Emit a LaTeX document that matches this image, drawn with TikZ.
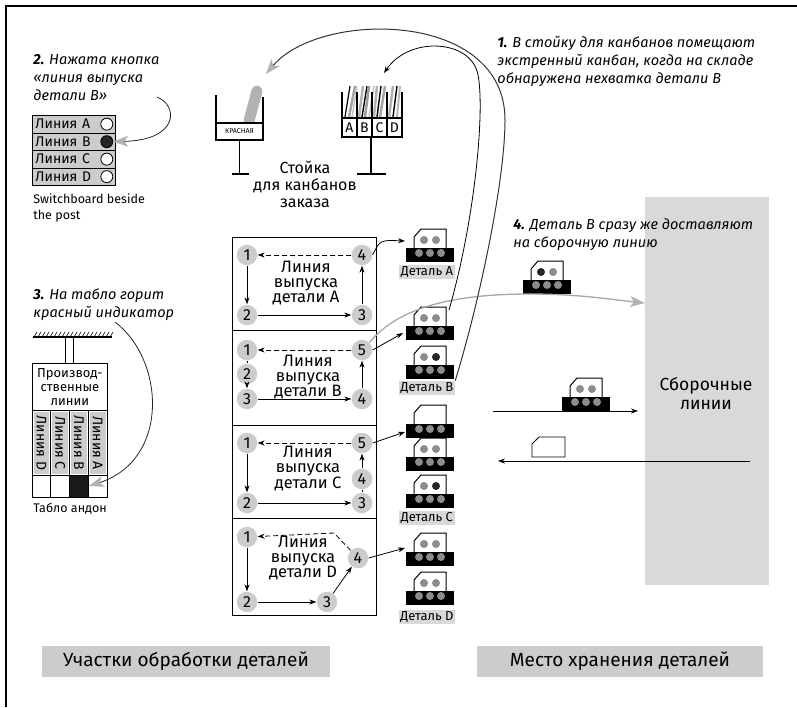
\documentclass[tikz,border=0pt]{standalone}
\usepackage{fontspec}
\setmainfont{Fira Sans}
\usetikzlibrary{arrows.meta}

\newcommand{\fsz}[2]{\fontsize{#1}{#2}\selectfont}
\definecolor{boxgray}{gray}{0.80}
\definecolor{dotgray}{gray}{0.55}

% a part container with its kanban card: x, top, left dot, right dot
\newcommand{\partstack}[4]{%
  \begin{scope}[shift={(#1,#2)}]
    \draw[fill=white,line width=1pt] (-16,24) -- (-16,8) -- (-9,0) -- (16,0) -- (16,24);
    \fill[#3] (-6,11) circle (4);
    \fill[#4] (6,11) circle (4);
    \fill[black] (-24,19) rectangle (24,33);
    \foreach \u in {-11,0,11} \fill[dotgray] (\u,24) circle (4);
    \draw[black,line width=1.2pt] (-16,29) -- (16,29);
  \end{scope}}

\tikzset{
  stn/.style={circle,fill=gray!40,inner sep=0pt,minimum size=20.5pt,font=\fsz{16}{16}},
  linetxt/.style={align=center,font=\fsz{16.5}{15}},
  steptxt/.style={anchor=north west,inner sep=0pt,align=left,font=\fsz{14.5}{18}\itshape},
  dlabel/.style={fill=gray!30,inner sep=1.5pt,font=\fsz{13}{13}},
  swrow/.style={draw,fill=boxgray,anchor=north west,minimum height=17.5pt,
    text width=77pt,inner xsep=3pt,inner ysep=0pt,align=left,font=\fsz{14}{14}},
  lampnode/.style={circle,draw,fill=white,inner sep=0pt,minimum size=12pt},
  slotbox/.style={draw,line width=1.5pt,fill=white,minimum width=15pt,minimum height=19pt,
    inner sep=0pt,font=\fsz{14}{14}},
  bigtip/.style={-{Stealth[length=15pt,width=11pt,inset=4pt,color=gray!60]}},
  graycurve/.style={gray!70,line width=1.3pt,bigtip},
  back/.style={->,dash pattern=on 5pt off 3pt},
}

\begin{document}
\begin{tikzpicture}[x=1pt,y=-1pt,line width=0.8pt,>={Stealth[length=7pt,width=5pt]}]
\useasboundingbox (0,0) rectangle (797,707);

% frame
\draw[line width=2pt] (6,707) -- (6,6) -- (797,6);

% captions of the steps
\node[steptxt] (cap1) at (497,36) {\textbf{1.} В стойку для канбанов помещают\\экстренный канбан, когда на складе\\обнаружена нехватка детали B};
\node[steptxt] (cap2) at (33,54) {\textbf{2.} Нажата кнопка\\«линия выпуска\\детали B»};
\node[steptxt] (cap3) at (33,288) {\textbf{3.} На табло горит\\красный индикатор};

% assembly lines
\fill[gray!30] (645,197) rectangle (769,585);
\node[align=center,font=\fsz{17.5}{19}] (asm) at (706,394) {Сборочные\\линии};
\node[steptxt] (cap4) at (513,218) {\textbf{4.} Деталь B сразу же доставляют\\на сборочную линию};

% switchboard
\foreach \t [count=\i from 0] in {A,B,C,D}
  \node[swrow] (sw\t) at (32,115+17.5*\i) {Линия \t};
\foreach \t in {A,C,D}
  \node[lampnode,xshift=-9pt] (lamp\t) at (sw\t.east) {};
\node[lampnode,xshift=-9pt,fill=gray!30!black] (lampB) at (swB.east) {};
\node[anchor=north west,inner sep=0pt,align=left,font=\fsz{12.5}{16}] (swcap) at (33,193) {Switchboard beside\\the post};
\coordinate (c2from) at (157,97);
\draw[gray!30!black,bigtip] (c2from) .. controls (178,105) and (180,140) .. (lampB.east);

% kanban post for the red card
\draw[line width=11pt,gray!60,line cap=round] (249,121) -- (257,91);
\draw[line width=1.8pt] (216,95) -- (216,123) -- (263,123) -- (263,97);
\node[draw,line width=1.8pt,fill=white,minimum width=47pt,minimum height=17pt,inner sep=0pt,font=\fsz{7}{7}] (red) at (239.5,131.5) {КРАСНАЯ};
\draw[line width=1.8pt] (red.south) -- ++(0,33) coordinate (redfoot);
\draw[line width=1.8pt] ([xshift=-8pt]redfoot) -- ([xshift=9pt]redfoot);

% kanban post for the order cards
\foreach \xb/\xt/\w/\c in {345/350/1.2/black,349/355/2.5/gray!70,352/357/1.4/gray!45,
    359/363/2.5/gray!60,362/367/1.4/black,365/369/2.5/gray!75,369/374/1.4/gray!50,
    374/377/2.5/gray!60,377/381/1.4/black,380/385/2.5/gray!70,389/393/2.5/gray!60,
    393/397/1.4/black,397/400/2/gray!55}
  \draw[line width=\w pt,\c] (\xb,117) -- (\xt,86);
\foreach \x in {342,357,372,387,402}
  \draw[line width=1.5pt] (\x,92) -- (\x,118);
\foreach \t [count=\i from 0] in {A,B,C,D}
  \node[slotbox] (slot\t) at (349.5+15*\i,127.5) {\t};
\draw[line width=1.8pt] (slotC.south west) -- ++(0,36) coordinate (slotfoot);
\draw[line width=1.8pt] ([xshift=-14pt]slotfoot) -- ([xshift=15pt]slotfoot);
\node[linetxt,font=\fsz{16}{17}] (postcap) at (305,184) {Стойка\\для канбанов\\заказа};

% andon board
\draw[line width=1.2pt] (33,337) -- (112,337);
\foreach \x in {34,38,...,110}
  \draw[line width=0.6pt] (\x,337) -- ++(3,-5);
\draw (65,337) -- (65,363);
\draw (73,337) -- (73,363);
\node[draw,fill=white,minimum width=75pt,minimum height=47pt,anchor=north west,inner sep=0pt,
  align=center,font=\fsz{13}{14}] (andon) at (32,363) {Производ-\\ственные\\линии};
\draw (32,410) rectangle (107,497);
\foreach \t/\x in {D/32,C/50.75,B/69.5,A/88.25} {
  \fill[boxgray] (\x+1.5,412) rectangle (\x+17.25,474);
  \node[rotate=-90,font=\fsz{14}{14}] (and\t) at (\x+9.4,443) {Линия \t};
  \draw (\x,410) -- (\x,497);
}
\draw (32,475) -- (107,475);
\fill[gray!20!black] (70,475.5) rectangle (88,497);
\node[anchor=north west,inner sep=0pt,font=\fsz{12.5}{12}] (andcap) at (33,503) {Табло андон};
\coordinate (c3from) at (115,322);
\coordinate (c3to) at (89,486);
\draw[gray!30!black,bigtip] (c3from) .. controls (165,360) and (170,460) .. (c3to);

% production lines
\draw (232,237) rectangle (376,615);
\foreach \y in {330,425,518} \draw (232,\y) -- (376,\y);

\node[stn] (a1) at (247,255) {1};
\node[stn] (a4) at (362,255) {4};
\node[stn] (a2) at (247,315) {2};
\node[stn] (a3) at (362,315) {3};
\node[linetxt] at (306,283) {Линия\\выпуска\\детали A};
\draw[back] (a4) -- (a1);
\draw[->] (a1) -- (a2);
\draw[->] (a2) -- (a3);
\draw[->] (a3) -- (a4);

\node[stn] (b1) at (247,350) {1};
\node[stn] (b2) at (247,374) {2};
\node[stn] (b3) at (247,399) {3};
\node[stn] (b4) at (362,399) {4};
\node[stn] (b5) at (362,350) {5};
\node[linetxt] at (308,377) {Линия\\выпуска\\детали B};
\draw[back] (b5) -- (b1);
\draw[dashed] (b1) -- (b2);
\draw[->] (b2) -- (b3);
\draw[->] (b3) -- (b4);
\draw[->] (b4) -- (b5);

\node[stn] (c1) at (247,443) {1};
\node[stn] (c2) at (247,503) {2};
\node[stn] (c3) at (362,503) {3};
\node[stn] (c4) at (362,479) {4};
\node[stn] (c5) at (362,443) {5};
\node[linetxt] at (308,469) {Линия\\выпуска\\детали C};
\draw[back] (c5) -- (c1);
\draw[->] (c1) -- (c2);
\draw[->] (c2) -- (c3);
\draw (c3) -- (c4);
\draw[->] (c4) -- (c5);

\node[stn] (d1) at (247,537) {1};
\node[stn] (d2) at (247,602) {2};
\node[stn] (d3) at (327,602) {3};
\node[stn] (d4) at (358,558) {4};
\node[linetxt] at (303,558) {Линия\\выпуска\\детали D};
\draw[back] (d4) -- (334,533) -- (d1);
\draw[->] (d1) -- (d2);
\draw[->] (d2) -- (d3);
\draw[->] (d3) -- (d4);

% parts in the store
\partstack{430}{229}{dotgray}{dotgray}
\node[dlabel] (detA) at (427,272) {Деталь A};
\partstack{430}{307}{dotgray}{dotgray}
\partstack{430}{346}{dotgray}{gray!30!black}
\node[dlabel] (detB) at (427,388) {Деталь B};
\partstack{430}{405}{white}{white}
\partstack{430}{438}{dotgray}{dotgray}
\partstack{430}{475}{dotgray}{gray!30!black}
\node[dlabel] (detC) at (427,518) {Деталь C};
\partstack{430}{533}{dotgray}{dotgray}
\partstack{430}{572}{dotgray}{dotgray}
\node[dlabel] (detD) at (427,617) {Деталь D};

\coordinate (inA) at (405,241);
\coordinate (inB) at (403,333);
\coordinate (inC) at (405,432);
\coordinate (inD) at (405,548);
\draw[->] (a4.east) .. controls (380,240) .. (inA);
\draw[->] (b5.east) -- (inB);
\draw[->] (c5.east) -- (inC);
\draw[->] (d4.east) -- (inD);

% delivery to the assembly lines
\partstack{547}{261}{gray!30!black}{dotgray}
\coordinate (asmtip) at (645,303);
\draw[graycurve] (b5.north east) .. controls (400,305) and (460,294) .. (530,294)
  .. controls (580,294) and (615,300) .. (asmtip);
\partstack{586}{378}{dotgray}{dotgray}
\coordinate (toasmA) at (493,411);
\coordinate (toasmB) at (638,411);
\draw[->] (toasmA) -- (toasmB);
\draw[fill=white] (532,457) -- (532,444) -- (539,437) -- (565,437) -- (565,457) -- cycle;
\coordinate (fromasmA) at (750,461);
\coordinate (fromasmB) at (498,461);
\draw[->] (fromasmA) -- (fromasmB);

% kanban paths back to the posts
\coordinate (b1top) at (449,310);
\coordinate (slottip) at (384,73);
\coordinate (redtip) at (266,74);
\draw[->] (b1top) .. controls (475,220) and (485,110) .. (478,75)
  .. controls (472,40) and (410,35) .. (slottip);
\draw[gray!40!black,line width=1pt,bigtip] (detB.north east) .. controls (480,300) and (505,180) .. (505,120)
  .. controls (505,10) and (320,10) .. (redtip);

% areas
\node[fill=boxgray,minimum width=288pt,minimum height=31pt,font=\fsz{19}{19}] (shop) at (186,661) {Участки обработки деталей};
\node[fill=boxgray,minimum width=286pt,minimum height=31pt,font=\fsz{19}{19}] (store) at (620,661) {Место хранения деталей};
\end{tikzpicture}
\end{document}
